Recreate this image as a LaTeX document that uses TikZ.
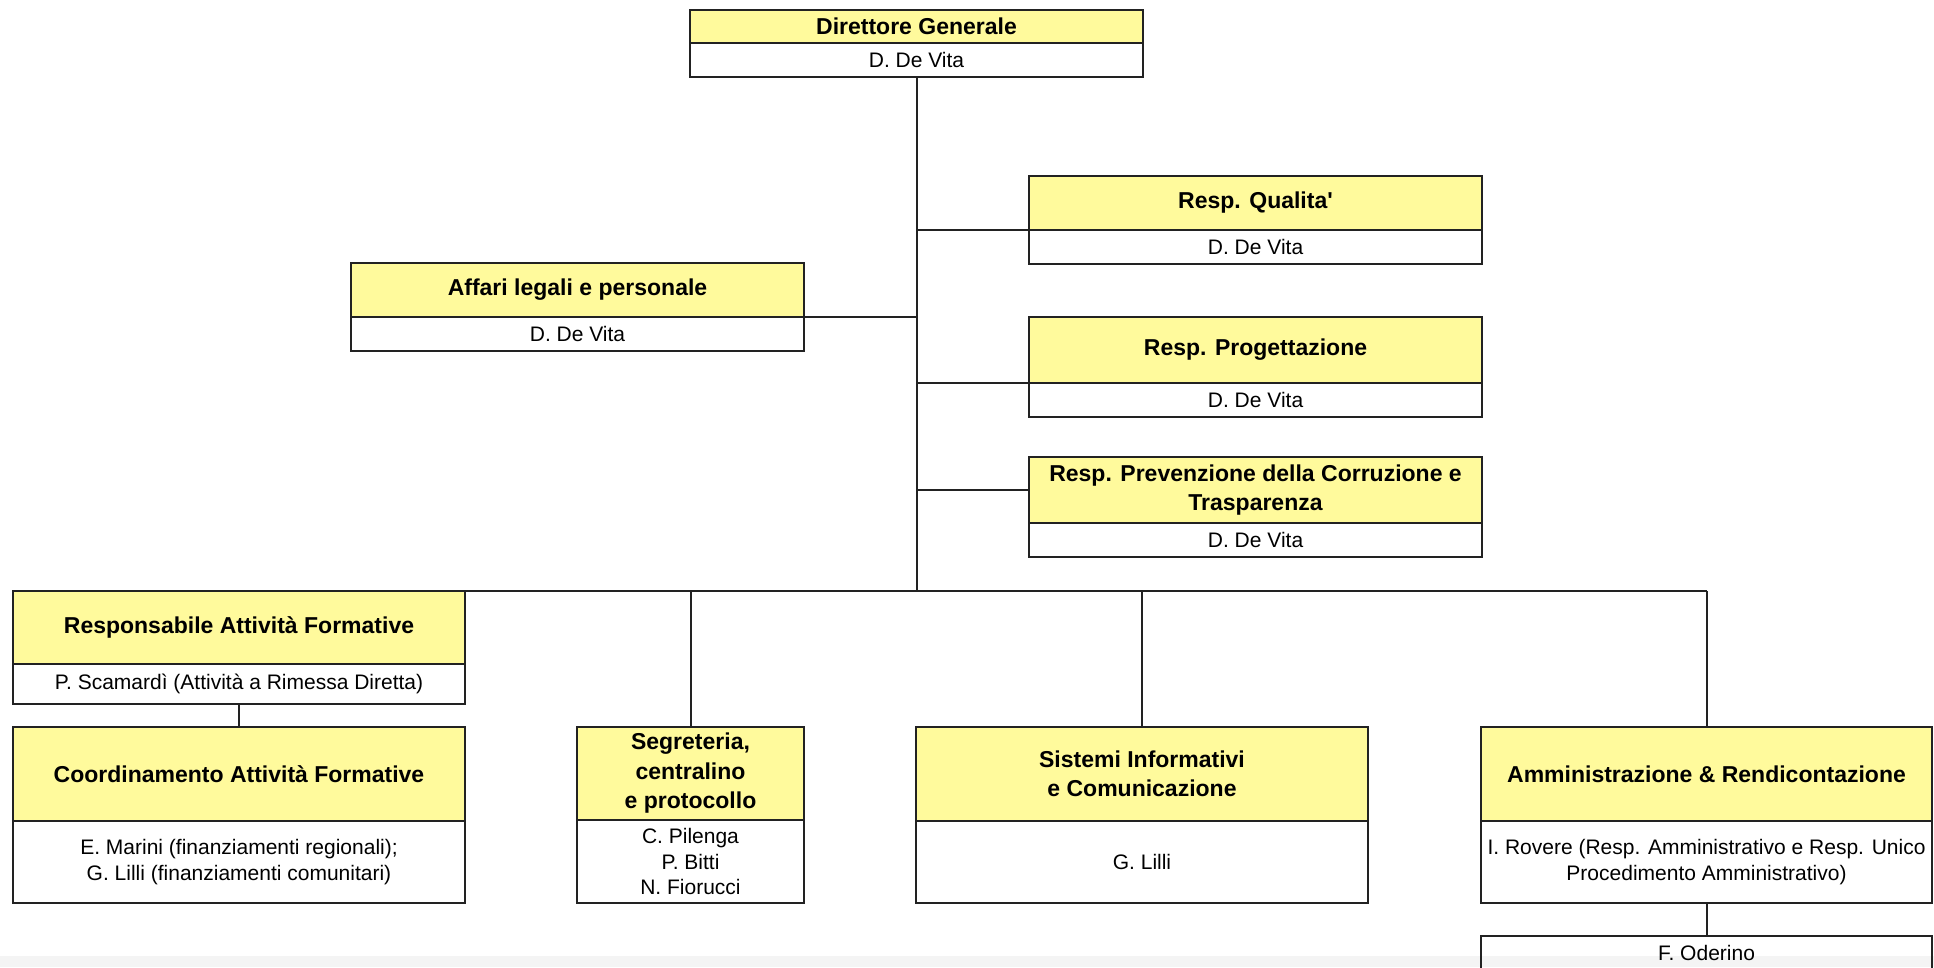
\documentclass[tikz,border=0pt]{standalone}
\usepackage{fontspec}
\setmainfont{Liberation Sans}
\definecolor{yel}{HTML}{FFFA9C}
\definecolor{edge}{HTML}{222222}
\definecolor{band}{HTML}{F4F4F4}
\begin{document}
\begin{tikzpicture}[x=1pt,y=-1pt,
  box/.style={draw=edge, line width=2pt, inner sep=0pt, outer sep=0pt, anchor=north west, align=center},
  head/.style={box, fill=yel, font=\bfseries\fontsize{23}{29.5}\selectfont},
  body/.style={box, fill=white, font=\fontsize{21}{25.5}\selectfont},
  conn/.style={draw=edge, line width=2pt}]
\useasboundingbox (0,0) rectangle (1934,967);
\clip (0,0) rectangle (1934,967);
\fill[white] (0,0) rectangle (1934,967);

% Direttore Generale
\node[head, minimum width=453pt, minimum height=33pt] (dg) at (690,10) {Direttore Generale};
\node[body, minimum width=453pt, minimum height=34pt] (dgb) at (690,43) {D. De Vita};

% Affari legali
\node[head, minimum width=453pt, minimum height=54pt] (aff) at (351,263) {Affari legali e personale};
\node[body, minimum width=453pt, minimum height=34pt] (affb) at (351,317) {D. De Vita};

% Resp. Qualita'
\node[head, minimum width=453pt, minimum height=54pt] (qua) at (1029,176) {Resp. Qualita\textquotesingle};
\node[body, minimum width=453pt, minimum height=34pt] (quab) at (1029,230) {D. De Vita};

% Resp. Progettazione
\node[head, minimum width=453pt, minimum height=66pt] (pro) at (1029,317) {Resp. Progettazione};
\node[body, minimum width=453pt, minimum height=34pt] (prob) at (1029,383) {D. De Vita};

% Resp. Prevenzione
\node[head, minimum width=453pt, minimum height=66pt] (prev) at (1029,457) {Resp. Prevenzione della Corruzione e\\Trasparenza};
\node[body, minimum width=453pt, minimum height=34pt] (prevb) at (1029,523) {D. De Vita};

% Responsabile Attivita Formative
\node[head, minimum width=452pt, minimum height=73pt] (rfa) at (13,591) {Responsabile Attività Formative};
\node[body, minimum width=452pt, minimum height=40pt] (rfab) at (13,664) {P. Scamardì (Attività a Rimessa Diretta)};

% Coordinamento
\node[head, minimum width=452pt, minimum height=94pt] (coo) at (13,727) {Coordinamento Attività Formative};
\node[body, minimum width=452pt, minimum height=82pt] (coob) at (13,821) {E. Marini (finanziamenti regionali);\\G. Lilli (finanziamenti comunitari)};

% Segreteria
\node[head, minimum width=227pt, minimum height=93pt] (seg) at (577,727) {Segreteria,\\centralino\\e protocollo};
\node[body, minimum width=227pt, minimum height=83pt] (segb) at (577,820) {C. Pilenga\\P. Bitti\\N. Fiorucci};

% Sistemi Informativi
\node[head, minimum width=452pt, minimum height=94pt] (sis) at (916,727) {Sistemi Informativi\\e Comunicazione};
\node[body, minimum width=452pt, minimum height=82pt] (sisb) at (916,821) {G. Lilli};

% Amministrazione
\node[head, minimum width=451pt, minimum height=94pt] (amm) at (1481,727) {Amministrazione \& Rendicontazione};
\node[body, minimum width=451pt, minimum height=82pt] (ammb) at (1481,821) {I. Rovere (Resp. Amministrativo e Resp. Unico\\Procedimento Amministrativo)};

% connectors
\draw[conn] (dgb.south) -- (dgb.south |- rfa.north);
\draw[conn] (rfa.north east) -- (amm.north |- rfa.north);
\draw[conn] (aff.south east) -- (aff.south east -| dgb.south);
\draw[conn] (qua.south west) -- (qua.south west -| dgb.south);
\draw[conn] (pro.south west) -- (pro.south west -| dgb.south);
\draw[conn] (prev.west) -- (prev.west -| dgb.south);
\draw[conn] (seg.north) -- (seg.north |- rfa.north);
\draw[conn] (sis.north) -- (sis.north |- rfa.north);
\draw[conn] (amm.north) -- (amm.north |- rfa.north);
\draw[conn] (rfab.south) -- (coo.north);

% bottom band
\fill[band] (0,956) rectangle (1934,967);

% F. Oderino
\node[body, fill=none, minimum width=451pt, minimum height=33pt] (ode) at (1481,936) {F. Oderino};
\draw[conn] (ammb.south) -- (ode.north);
\end{tikzpicture}
\end{document}
